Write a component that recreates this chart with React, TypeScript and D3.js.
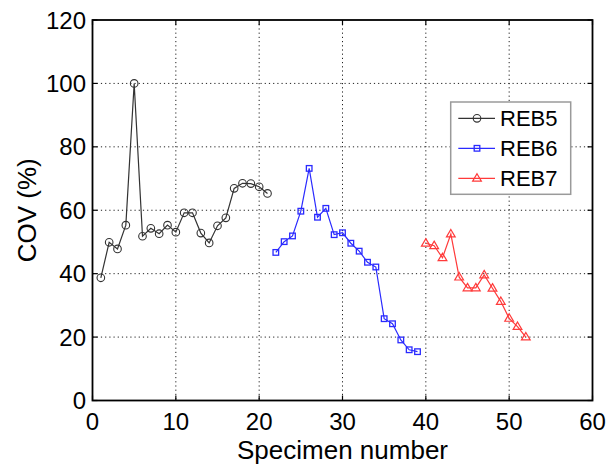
import React from "react";
import * as d3 from "d3";

// Coefficient of variation per specimen, grouped by test series
const reb5X = [1, 2, 3, 4, 5, 6, 7, 8, 9, 10, 11, 12, 13, 14, 15, 16, 17, 18, 19, 20, 21];
const reb5Y = [38.7, 49.9, 47.8, 55.3, 100, 51.8, 54.3, 52.6, 55.3, 53.1, 59.2, 59.2, 52.8, 49.7, 55.1, 57.6, 66.9, 68.5, 68.4, 67.4, 65.3];

const reb6X = [22, 23, 24, 25, 26, 27, 28, 29, 30, 31, 32, 33, 34, 35, 36, 37, 38, 39];
const reb6Y = [46.7, 50.1, 51.9, 59.7, 73.2, 57.8, 60.6, 52.3, 52.9, 49.6, 47.1, 43.6, 42.1, 25.8, 24.2, 19.1, 16.0, 15.4];

const reb7X = [40, 41, 42, 43, 44, 45, 46, 47, 48, 49, 50, 51, 52];
const reb7Y = [49.6, 48.8, 45.0, 52.5, 38.9, 35.5, 35.5, 39.6, 35.4, 31.2, 25.9, 23.3, 20.0];

const xTicks = [0, 10, 20, 30, 40, 50, 60];
const yTicks = [0, 20, 40, 60, 80, 100, 120];
const seriesNames = ["REB5", "REB6", "REB7"];

const W = 611;
const H = 468;
const left = 92.5;
const right = 592.5;
const top = 20;
const bottom = 400.5;
const FONT = "'Liberation Sans', Arial, Helvetica, sans-serif";

type MarkerKind = "circle" | "square" | "triangle";

function Marker({ kind, cx, cy, color }: { kind: MarkerKind; cx: number; cy: number; color: string }) {
  if (kind === "circle") {
    return <circle cx={cx} cy={cy} r={3.8} fill="none" stroke={color} strokeWidth={1.1} />;
  }
  if (kind === "square") {
    const s = 5.6;
    return <rect x={cx - s / 2} y={cy - s / 2} width={s} height={s} fill="none" stroke={color} strokeWidth={1.3} />;
  }
  const r = 4.6;
  const pts = [
    [cx, cy - r],
    [cx + r * 0.95, cy + r * 0.62],
    [cx - r * 0.95, cy + r * 0.62],
  ];
  return <polygon points={pts.map((p) => p.join(",")).join(" ")} fill="none" stroke={color} strokeWidth={1.2} />;
}

export default function App() {
  const x = d3.scaleLinear().domain([0, 60]).range([left, right]);
  const y = d3.scaleLinear().domain([0, 120]).range([bottom, top]);

  const series = [
    { name: seriesNames[0], xs: reb5X, ys: reb5Y, color: "#333333", kind: "circle" as MarkerKind },
    { name: seriesNames[1], xs: reb6X, ys: reb6Y, color: "#2a2aff", kind: "square" as MarkerKind },
    { name: seriesNames[2], xs: reb7X, ys: reb7Y, color: "#ff3a3a", kind: "triangle" as MarkerKind },
  ];

  const line = d3
    .line<[number, number]>()
    .x((d) => x(d[0]))
    .y((d) => y(d[1]));

  const tickLen = 5;

  return (
    <svg
      width={W}
      height={H}
      style={{ position: "absolute", left: 0, top: 0, background: "#fff" }}
      fontFamily={FONT}
    >
      <rect x={0} y={0} width={W} height={H} fill="#fff" />

      {/* dotted grid */}
      {xTicks.slice(1, -1).map((t) => (
        <line key={"gx" + t} x1={x(t)} x2={x(t)} y1={top} y2={bottom} stroke="#222" strokeWidth={1} strokeDasharray="1.2,3" />
      ))}
      {yTicks.slice(1, -1).map((t) => (
        <line key={"gy" + t} x1={left} x2={right} y1={y(t)} y2={y(t)} stroke="#222" strokeWidth={1} strokeDasharray="1.2,3" />
      ))}

      {/* inward ticks on all four sides */}
      {xTicks.map((t) => (
        <g key={"tx" + t}>
          <line x1={x(t)} x2={x(t)} y1={bottom} y2={bottom - tickLen} stroke="#000" strokeWidth={1.2} />
          <line x1={x(t)} x2={x(t)} y1={top} y2={top + tickLen} stroke="#000" strokeWidth={1.2} />
        </g>
      ))}
      {yTicks.map((t) => (
        <g key={"ty" + t}>
          <line x1={left} x2={left + tickLen} y1={y(t)} y2={y(t)} stroke="#000" strokeWidth={1.2} />
          <line x1={right} x2={right - tickLen} y1={y(t)} y2={y(t)} stroke="#000" strokeWidth={1.2} />
        </g>
      ))}

      {/* series */}
      {series.map((s) => {
        const pts = s.xs.map((v, i) => [v, s.ys[i]] as [number, number]);
        return (
          <g key={s.name}>
            <path d={line(pts) ?? ""} fill="none" stroke={s.color} strokeWidth={1.2} />
            {pts.map((p, i) => (
              <Marker key={i} kind={s.kind} cx={x(p[0])} cy={y(p[1])} color={s.color} />
            ))}
          </g>
        );
      })}

      {/* axes box */}
      <rect x={left} y={top} width={right - left} height={bottom - top} fill="none" stroke="#000" strokeWidth={1.8} />

      {/* tick labels */}
      {xTicks.map((t) => (
        <text key={"lx" + t} x={x(t)} y={430} textAnchor="middle" fontSize={24} fill="#000">
          {t}
        </text>
      ))}
      {yTicks.map((t) => (
        <text key={"ly" + t} x={86} y={y(t)} dy="0.36em" textAnchor="end" fontSize={24} fill="#000">
          {t}
        </text>
      ))}

      {/* axis titles */}
      <text x={(left + right) / 2} y={459} textAnchor="middle" fontSize={26} fill="#000">
        Specimen number
      </text>
      <text
        transform={`translate(36, ${(top + bottom) / 2}) rotate(-90)`}
        textAnchor="middle"
        fontSize={26}
        fill="#000"
      >
        COV (%)
      </text>

      {/* legend */}
      <g>
        <rect x={450.7} y={102} width={120} height={92.3} fill="#fff" stroke="#9a9a9a" strokeWidth={1.5} />
        {series.map((s, i) => {
          const ly = 118.3 + i * 30;
          return (
            <g key={"lg" + s.name}>
              <line x1={458.3} x2={495} y1={ly} y2={ly} stroke={s.color} strokeWidth={1.2} />
              <Marker kind={s.kind} cx={477} cy={ly} color={s.color} />
              <text x={500} y={ly} dy="0.36em" fontSize={22} fill="#000">
                {s.name}
              </text>
            </g>
          );
        })}
      </g>
    </svg>
  );
}
